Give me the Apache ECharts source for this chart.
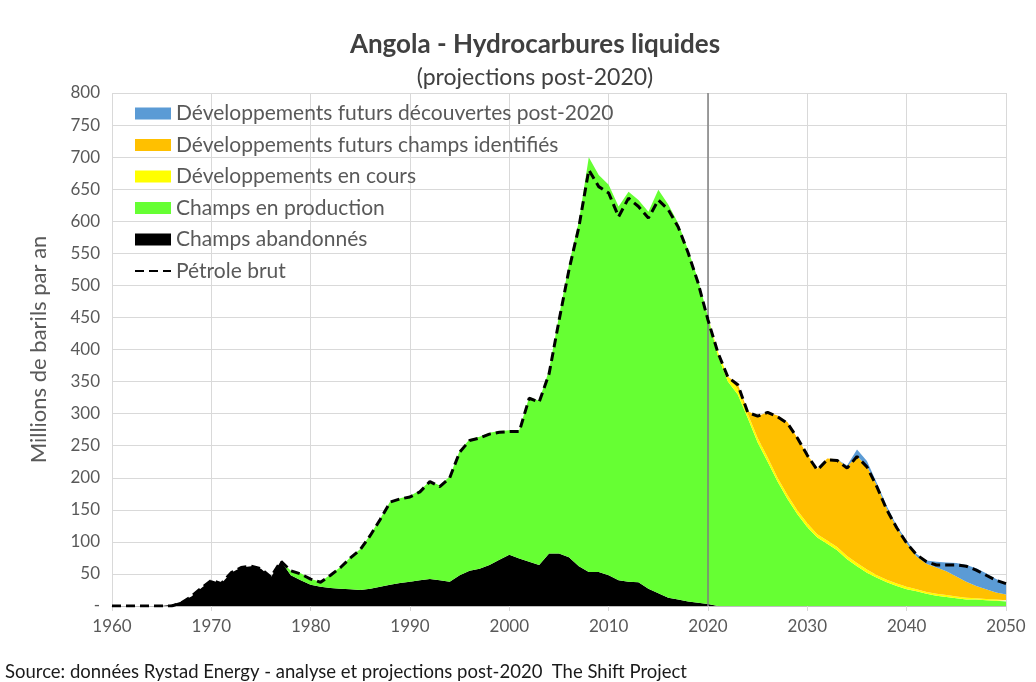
<!DOCTYPE html>
<html>
<head>
<meta charset="utf-8">
<script src="https://cdn.jsdelivr.net/npm/echarts@6/dist/echarts.min.js"></script>
<style>
html,body{margin:0;padding:0;background:#fff;}
#chart{width:1036px;height:682px;}
</style>
</head>
<body>
<div id="chart"></div>
<script>
// Years 1960..2050
const years = [];
for (let y = 1960; y <= 2050; y++) years.push(String(y));

// Champs abandonnés (1960..2050)
const abandonnes = [
  0,0,0,0,0,0,2,7,15,28,          // 1960-1969
  40,35,52,60,62,58,45,70,48,40,  // 1970-1979
  33,30,28,27,26,25,27,30,33,36,  // 1980-1989
  38,40,42,40,38,48,55,58,64,72,  // 1990-1999
  80,74,69,64,82,82,76,62,53,53,  // 2000-2009
  48,40,38,37,27,20,13,10,7,5,    // 2010-2019
  3,0,0,0,0,0,0,0,0,0,            // 2020-2029
  0,0,0,0,0,0,0,0,0,0,            // 2030-2039
  0,0,0,0,0,0,0,0,0,0,            // 2040-2049
  0                               // 2050
];

// Champs en production
const production = [
  0,0,0,0,0,0,0,0,0,0,                    // 1960-1969
  0,0,0,0,0,0,0,0,7,11,                   // 1970-1979
  9,8,21,34,50,64,84,106,130,132,         // 1980-1989
  134,140,153,148,164,194,205,206,206,201,// 1990-1999
  194,200,257,256,286,370,456,538,647,619,// 2000-2009
  609,583,608,596,588,629,613,587,548,504,// 2010-2019
  448,390,350,330,293,255,225,194,167,143,// 2020-2029
  123,107,97,87,73,62,52,44,37,31,        // 2030-2039
  26,23,19,16,14,12,10,10,9,8,            // 2040-2049
  7                                       // 2050
];

// Développements en cours
const enCours = [
  0,0,0,0,0,0,0,0,0,0,
  0,0,0,0,0,0,0,0,0,0,
  0,0,0,0,0,0,0,0,0,0,
  0,0,0,0,0,0,0,0,0,0,
  0,0,0,0,0,0,0,0,0,0,
  0,0,0,0,0,0,0,0,0,0,
  0,6,8,8,7,7,7,6,6,6,    // 2020-2029
  6,5,5,5,5,5,5,4,4,4,    // 2030-2039
  4,3,3,3,3,3,3,2,2,2,    // 2040-2049
  2
];

// Développements futurs champs identifiés
const identifies = [
  0,0,0,0,0,0,0,0,0,0,
  0,0,0,0,0,0,0,0,0,0,
  0,0,0,0,0,0,0,0,0,0,
  0,0,0,0,0,0,0,0,0,0,
  0,0,0,0,0,0,0,0,0,0,
  0,0,0,0,0,0,0,0,0,0,
  0,0,0,8,4,34,70,97,114,113,      // 2020-2029
  107,102,128,137,139,167,161,140,111,87, // 2030-2039
  68,51,44,41,37,31,25,19,15,11,   // 2040-2049
  9
];

// Développements futurs découvertes post-2020
const decouvertes = [
  0,0,0,0,0,0,0,0,0,0,
  0,0,0,0,0,0,0,0,0,0,
  0,0,0,0,0,0,0,0,0,0,
  0,0,0,0,0,0,0,0,0,0,
  0,0,0,0,0,0,0,0,0,0,
  0,0,0,0,0,0,0,0,0,0,
  0,0,0,0,0,0,0,0,0,0,        // 2020-2029
  0,0,0,0,2,10,8,4,4,3,       // 2030-2039
  4,4,5,9,14,21,26,28,25,21,  // 2040-2049
  17
];

// Pétrole brut
const petroleBrut = [
  0,0,0,0,0,0,0,5,15,28,                  // 1960-1969
  40,35,52,60,62,58,45,70,55,50,          // 1970-1979
  42,37,48,60,75,88,110,135,162,167,      // 1980-1989
  170,178,194,186,200,240,258,262,268,271,// 1990-1999
  272,272,324,318,362,445,524,591,680,654,// 2000-2009
  644,607,636,623,605,633,618,591,551,504,// 2010-2019
  446,395,357,345,302,296,302,295,285,262,// 2020-2029
  235,212,228,227,215,233,217,186,150,122,// 2030-2039
  98,80,69,64,64,64,62,56,48,40,          // 2040-2049
  35
];

const yTicks = { min: 0, max: 800, interval: 50 };

const FONT = 'Lato, "Open Sans", sans-serif';
const GREY = '#595959';

const chart = echarts.init(document.getElementById('chart'));

function area(name, data, color, z) {
  return {
    name, type: 'line', stack: 'total', data,
    symbol: 'none', smooth: false,
    itemStyle: { color },
    lineStyle: { width: 0, color },
    areaStyle: { color, opacity: 1 },
    emphasis: { disabled: true },
    z
  };
}

chart.setOption({
  animation: false,
  backgroundColor: '#fff',
  title: [
    { text: 'Angola - Hydrocarbures liquides', left: 530, top: 27, textAlign: 'center',
      textStyle: { fontFamily: FONT, fontSize: 26, fontWeight: 'bold', color: '#404040' } },
    { text: '(projections post-2020)', left: 530, top: 61, textAlign: 'center',
      textStyle: { fontFamily: FONT, fontSize: 23, fontWeight: 'normal', color: '#404040' } }
  ],
  legend: {
    orient: 'vertical', left: 129, top: 98,
    itemWidth: 36, itemHeight: 12, itemGap: 10.5,
    textStyle: { fontFamily: FONT, fontSize: 21, color: GREY },
    data: [
      { name: 'Développements futurs découvertes post-2020', icon: 'rect' },
      { name: 'Développements futurs champs identifiés', icon: 'rect' },
      { name: 'Développements en cours', icon: 'rect' },
      { name: 'Champs en production', icon: 'rect' },
      { name: 'Champs abandonnés', icon: 'rect' },
      { name: 'Pétrole brut', itemStyle: { color: 'rgba(0,0,0,0)', borderColor: 'rgba(0,0,0,0)', borderWidth: 0 } }
    ]
  },
  grid: { left: 112, right: 30, top: 93, bottom: 76, containLabel: false },
  xAxis: {
    type: 'category', data: years, boundaryGap: false,
    axisLine: { lineStyle: { color: '#bfbfbf', width: 1 } },
    axisTick: { show: true, interval: 9, length: 5, lineStyle: { color: '#d9d9d9' } },
    axisLabel: { interval: 9, color: GREY, fontFamily: FONT, fontSize: 17, margin: 12 },
    splitLine: { show: true, interval: 9, lineStyle: { color: '#d9d9d9', width: 1 } }
  },
  yAxis: {
    type: 'value', min: yTicks.min, max: yTicks.max, interval: yTicks.interval,
    name: 'Millions de barils par an', nameLocation: 'middle', nameGap: 62,
    nameTextStyle: { fontFamily: FONT, fontSize: 22, color: GREY },
    axisLine: { show: false }, axisTick: { show: false },
    axisLabel: { color: GREY, fontFamily: FONT, fontSize: 17, margin: 12,
      formatter: v => v === 0 ? '-' : String(v) },
    splitLine: { lineStyle: { color: '#d9d9d9', width: 1 } }
  },
  series: [
    area('Champs abandonnés', abandonnes, '#000000', 2),
    area('Champs en production', production, '#66ff33', 2),
    area('Développements en cours', enCours, '#ffff00', 2),
    area('Développements futurs champs identifiés', identifies, '#ffc000', 2),
    area('Développements futurs découvertes post-2020', decouvertes, '#5b9bd5', 2),
    {
      name: 'Pétrole brut', type: 'line', data: petroleBrut, symbol: 'none',
      itemStyle: { color: '#000' },
      lineStyle: { color: '#000', width: 3, type: [9, 5] },
      emphasis: { disabled: true },
      z: 5,
      markLine: {
        silent: true, symbol: ['none', 'none'], label: { show: false },
        lineStyle: { color: '#7f7f7f', width: 1.5, type: 'solid' },
        data: [{ xAxis: '2020' }]
      }
    }
  ],
  graphic: [
    { type: 'text', left: 5, top: 663,
      style: { text: 'Source: données Rystad Energy - analyse et projections post-2020  The Shift Project',
        font: '18.5px ' + FONT, fill: '#1a1a1a' } }
  ]
});
</script>
</body>
</html>
